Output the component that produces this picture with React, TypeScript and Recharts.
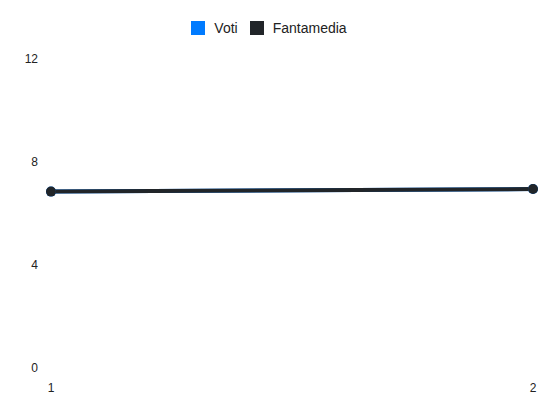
import { Legend, Line, LineChart, XAxis, YAxis } from "recharts";

// giornate (x categories) and the two series
const giornate = ["1", "2"];
const voti = [6.85, 6.95];
const fantamedia = [6.85, 6.95];
const yTicks = [0, 4, 8, 12];
const seriesOrder = ["Voti", "Fantamedia"];

const BLUE = "#007bff";
const DARK = "#212529";
const FONT = "'Liberation Sans', Arial, sans-serif";

const chartData = giornate.map((g, i) => ({
  giornata: g,
  voti: voti[i],
  fantamedia: fantamedia[i],
}));

function LegendBox(props: any) {
  const items = [...(props.payload || [])].sort(
    (a: any, b: any) => seriesOrder.indexOf(a.value) - seriesOrder.indexOf(b.value)
  );
  return (
    <div
      style={{
        display: "flex",
        justifyContent: "center",
        paddingTop: 2,
        height: 38,
        boxSizing: "border-box",
        fontFamily: FONT,
        fontSize: 14,
        color: "#222",
      }}
    >
      {items.map((item: any) => (
        <div
          key={item.value}
          style={{ display: "flex", alignItems: "center", marginRight: 12, height: 14 }}
        >
          <span
            style={{
              display: "inline-block",
              width: 14,
              height: 14,
              background: item.color,
              marginRight: 9,
            }}
          />
          <span>{item.value}</span>
        </div>
      ))}
    </div>
  );
}

export default function App() {
  return (
    <div style={{ position: "absolute", left: 0, top: 0, width: 550, height: 412 }}>
      <LineChart
        width={550}
        height={412}
        data={chartData}
        margin={{ top: 21, right: 17, left: 0, bottom: 14 }}
      >
        <Legend
          verticalAlign="top"
          content={LegendBox}
          wrapperStyle={{ left: 0, width: 550, top: 19 }}
        />
        <XAxis
          dataKey="giornata"
          axisLine={false}
          tickLine={false}
          tickSize={0}
          tickMargin={15}
          height={30}
          tick={{ fill: "#222", fontSize: 12, fontFamily: FONT }}
        />
        <YAxis
          domain={[0, 12]}
          ticks={yTicks}
          axisLine={false}
          tickLine={false}
          tickSize={0}
          tickMargin={13}
          width={51}
          tick={{ fill: "#222", fontSize: 12, fontFamily: FONT }}
        />
        <Line
          name="Voti"
          dataKey="voti"
          stroke={BLUE}
          strokeWidth={4}
          dot={{ r: 5, fill: BLUE, stroke: "none" }}
          isAnimationActive={false}
        />
        <Line
          name="Fantamedia"
          dataKey="fantamedia"
          stroke={DARK}
          strokeWidth={4}
          dot={{ r: 5, fill: DARK, stroke: "none" }}
          isAnimationActive={false}
        />
      </LineChart>
    </div>
  );
}
